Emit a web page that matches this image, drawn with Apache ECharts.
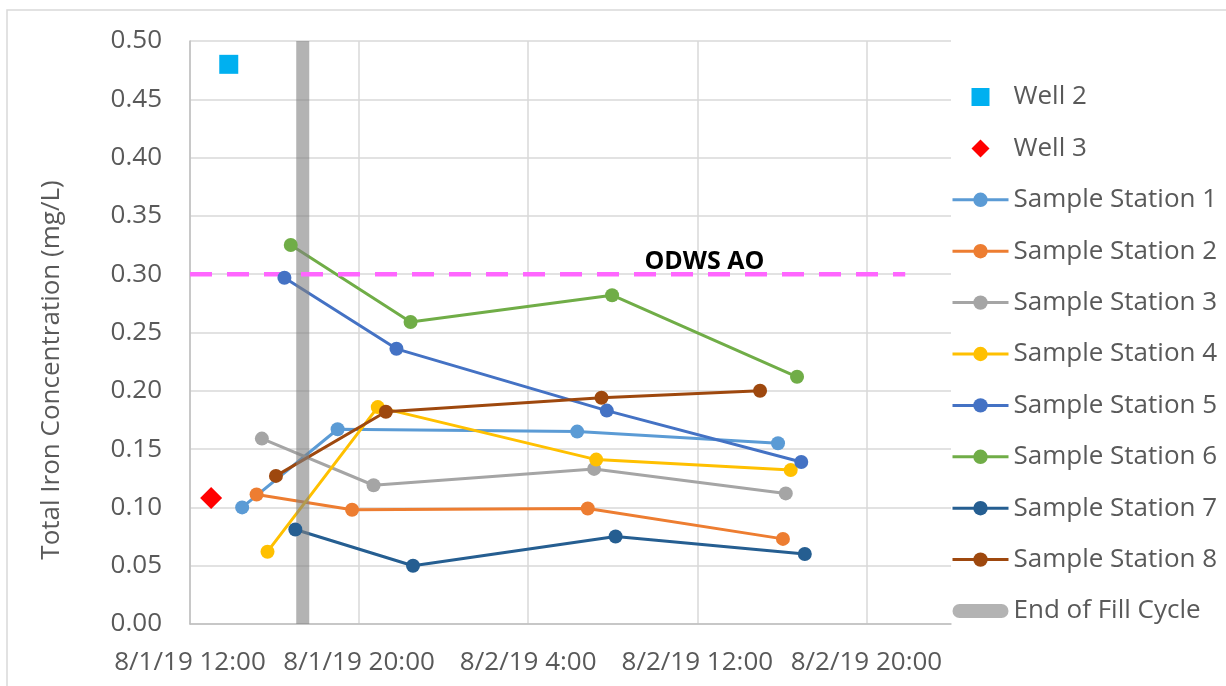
<!DOCTYPE html>
<html>
<head>
<meta charset="utf-8">
<title>Total Iron Concentration</title>
<script src="https://cdn.jsdelivr.net/npm/echarts@6/dist/echarts.min.js"></script>
<style>
  html, body { margin: 0; padding: 0; background: #fff; }
  #chart { width: 1226px; height: 686px; }
</style>
</head>
<body>
<div id="chart"></div>
<script>
// sample times are "month/day hh:mm" in 2019, values in mg/L
var well2Times = ['8/1 13:50'];
var well2Values = [0.48];
var well3Times = ['8/1 13:00'];
var well3Values = [0.108];

var stationNames = ['Sample Station 1', 'Sample Station 2', 'Sample Station 3', 'Sample Station 4',
  'Sample Station 5', 'Sample Station 6', 'Sample Station 7', 'Sample Station 8'];
var stationColors = ['#5B9BD5', '#ED7D31', '#A5A5A5', '#FFC000', '#4472C4', '#70AD47', '#255E91', '#9E480E'];
var stationTimes = [
  ['8/1 14:28', '8/1 18:59', '8/2 6:19', '8/2 15:49'],
  ['8/1 15:09', '8/1 19:40', '8/2 6:49', '8/2 16:03'],
  ['8/1 15:24', '8/1 20:41', '8/2 7:07', '8/2 16:11'],
  ['8/1 15:40', '8/1 20:53', '8/2 7:13', '8/2 16:25'],
  ['8/1 16:28', '8/1 21:46', '8/2 7:43', '8/2 16:55'],
  ['8/1 16:46', '8/1 22:26', '8/2 7:58', '8/2 16:43'],
  ['8/1 16:59', '8/1 22:33', '8/2 8:08', '8/2 17:05'],
  ['8/1 16:04', '8/1 21:16', '8/2 7:28', '8/2 14:58']
];
var stationValues = [
  [0.100, 0.167, 0.165, 0.155],
  [0.111, 0.098, 0.099, 0.073],
  [0.159, 0.119, 0.133, 0.112],
  [0.062, 0.186, 0.141, 0.132],
  [0.297, 0.236, 0.183, 0.139],
  [0.325, 0.259, 0.282, 0.212],
  [0.081, 0.050, 0.075, 0.060],
  [0.127, 0.182, 0.194, 0.200]
];

// end of fill cycle marker, drawn across the whole y range
var fillCycleTime = '8/1 17:20';
var fillCycleRange = [0, 0.5];

// ODWS aesthetic objective
var aoLevel = 0.30;
var aoTimes = ['8/1 12:00', '8/2 21:50'];
var aoLabelTime = '8/2 12:20';

var FONT = 'Open Sans';
var TEXT_COLOR = '#595959';

// hours after 8/1/19 12:00 (start of x axis)
function toHours(s) {
  var p = s.split(/[\/ :]/);
  return (Number(p[1]) - 1) * 24 + Number(p[2]) + Number(p[3]) / 60 - 12;
}
function tickLabel(v) {
  var h = v + 12;
  var day = 1 + Math.floor(h / 24);
  return '8/' + day + '/19 ' + (h % 24) + ':00';
}
function pairs(times, values) {
  return times.map(function (t, i) { return [toHours(t), values[i]]; });
}

var series = [];
series.push({
  name: 'Well 2', type: 'scatter', symbol: 'rect', symbolSize: 19,
  itemStyle: { color: '#00B0F0', opacity: 1 },
  data: pairs(well2Times, well2Values)
});
series.push({
  name: 'Well 3', type: 'scatter', symbol: 'diamond', symbolSize: 22,
  itemStyle: { color: '#FF0000', opacity: 1 },
  data: pairs(well3Times, well3Values)
});
stationNames.forEach(function (name, i) {
  series.push({
    name: name, type: 'line', symbol: 'circle', symbolSize: 14, showSymbol: true,
    itemStyle: { color: stationColors[i] },
    lineStyle: { color: stationColors[i], width: 3 },
    data: pairs(stationTimes[i], stationValues[i])
  });
});
series.push({
  name: 'End of Fill Cycle', type: 'line', symbol: 'none',
  itemStyle: { color: 'rgba(128,128,128,0.6)' },
  lineStyle: { color: 'rgba(128,128,128,0.6)', width: 13 },
  data: fillCycleRange.map(function (v) { return [toHours(fillCycleTime), v]; })
});
series.push({
  name: 'ODWS AO', type: 'line', symbol: 'none',
  lineStyle: { color: '#FF66FF', width: 4.5, type: [22, 15] },
  data: aoTimes.map(function (t) { return [toHours(t), aoLevel]; }),
  markPoint: {
    symbol: 'circle', symbolSize: 0, silent: true,
    label: {
      show: true, formatter: 'ODWS AO', position: 'top', distance: 0,
      color: '#000', fontWeight: 'bold', fontSize: 25, fontFamily: FONT
    },
    data: [{ coord: [toHours(aoLabelTime), aoLevel] }]
  }
});

// path icons keep their aspect in the legend, built-in rect/diamond get stretched
var legendData = [
  { name: 'Well 2', icon: 'path://M0 0H18V18H0Z' },
  { name: 'Well 3', icon: 'path://M9 0L18 9L9 18L0 9Z' }
].concat(stationNames);
legendData.push({ name: 'End of Fill Cycle', icon: 'path://M7 0H49A7 7 0 0 1 49 14H7A7 7 0 0 1 7 0Z' });

var chart = echarts.init(document.getElementById('chart'));
var option = {
  animation: false,
  backgroundColor: '#fff',
  textStyle: { fontFamily: FONT },
  graphic: [
    {
      type: 'rect', silent: true,
      shape: { x: 7, y: 10, width: 1300, height: 800 },
      style: { fill: 'none', stroke: '#d9d9d9', lineWidth: 1.5 }
    },
    {
      type: 'text', x: 52, y: 370, rotation: Math.PI / 2, silent: true,
      style: {
        text: 'Total Iron Concentration (mg/L)', fill: TEXT_COLOR,
        font: '26px "Open Sans"', align: 'center', verticalAlign: 'middle'
      }
    }
  ],
  grid: { left: 190, right: 275, top: 41, bottom: 62, outerBoundsMode: 'none' },
  legend: {
    orient: 'vertical', left: 951, top: 84, padding: 0,
    itemWidth: 56, itemHeight: 18, itemGap: 25.4,
    symbolKeepAspect: true,
    lineStyle: { width: 3 },
    textStyle: { fontSize: 26, lineHeight: 26, color: TEXT_COLOR, fontFamily: FONT },
    data: legendData
  },
  xAxis: {
    type: 'value', min: 0, max: 36, interval: 8,
    axisLine: { show: true, lineStyle: { color: '#bfbfbf', width: 1.5 } },
    axisTick: { show: false },
    splitLine: { show: true, showMaxLine: false, lineStyle: { color: '#d9d9d9', width: 1.5 } },
    axisLabel: {
      formatter: tickLabel, showMaxLabel: false, margin: 26,
      fontSize: 26, color: TEXT_COLOR, fontFamily: FONT
    }
  },
  yAxis: {
    type: 'value', min: 0, max: 0.5, interval: 0.05,
    axisLine: { show: true, lineStyle: { color: '#bfbfbf', width: 1.5 } },
    axisTick: { show: false },
    splitLine: { show: true, lineStyle: { color: '#d9d9d9', width: 1.5 } },
    axisLabel: {
      formatter: function (v) { return v.toFixed(2); }, margin: 28,
      fontSize: 26, color: TEXT_COLOR, fontFamily: FONT
    }
  },
  series: series
};
chart.setOption(option);
</script>
</body>
</html>
